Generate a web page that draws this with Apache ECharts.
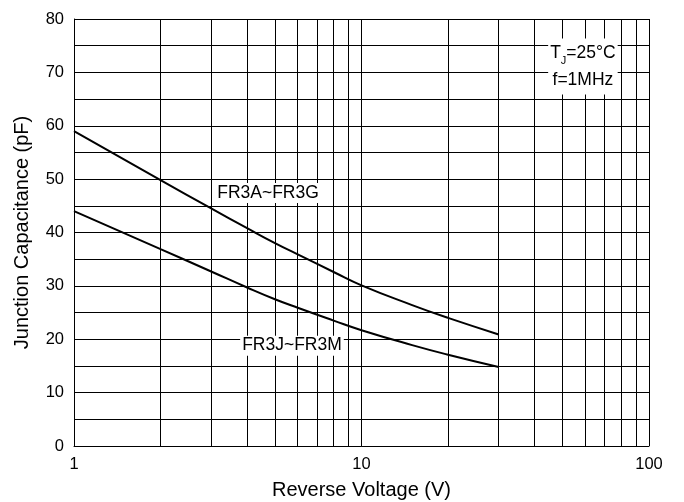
<!DOCTYPE html>
<html>
<head>
<meta charset="utf-8">
<script src="https://cdn.jsdelivr.net/npm/echarts@6/dist/echarts.min.js"></script>
<style>
html,body{margin:0;padding:0;background:#fff;}
#chart{width:684px;height:502px;}
</style>
</head>
<body>
<div id="chart"></div>
<script>
// Data
var voltagesA = [1, 2, 3, 4, 5, 6, 8, 10, 15, 20, 30];
var capA = [59.0, 49.8, 44.5, 40.8, 38.0, 35.9, 32.6, 30.1, 26.4, 24.0, 20.9];
var voltagesJ = [1, 2, 3, 4, 5, 6, 8, 10, 15, 20, 30];
var capJ = [44.0, 36.9, 32.7, 29.7, 27.5, 25.9, 23.5, 21.7, 18.9, 17.1, 14.8];
var minorGridX = [2, 3, 4, 5, 6, 7, 8, 9, 20, 30, 40, 50, 60, 70, 80, 90];
var labelA = {text: 'FR3A~FR3G', x: 4.73, y: 47.4};
var labelJ = {text: 'FR3J~FR3M', x: 5.73, y: 18.8};
var labelCond = {x: 58.9, y: 71.1};

function pairs(xs, ys) { return xs.map(function (x, i) { return [x, ys[i]]; }); }

var FONT = '"Liberation Sans", Arial, sans-serif';
var chart = echarts.init(document.getElementById('chart'), null, {renderer: 'canvas'});
var lineBlack = {color: '#000', width: 1, type: 'solid'};
var textLabel = {
  show: true, position: 'inside', color: '#000', fontFamily: FONT, fontSize: 17.5,
  backgroundColor: '#fff', padding: [1, 2]
};
chart.setOption({
  animation: false,
  backgroundColor: '#fff',
  grid: {left: 74, right: 35, top: 19, bottom: 56, containLabel: false, outerBoundsMode: 'none'},
  xAxis: {
    type: 'log', logBase: 10, min: 1, max: 100,
    name: 'Reverse Voltage (V)', nameLocation: 'middle', nameGap: 34,
    nameTextStyle: {color: '#000', fontFamily: FONT, fontSize: 20},
    axisLine: {show: true, lineStyle: {color: '#000', width: 1}},
    axisTick: {show: false},
    axisLabel: {color: '#000', fontFamily: FONT, fontSize: 16.5, margin: 10},
    splitLine: {show: true, lineStyle: lineBlack}
  },
  yAxis: {
    type: 'value', min: 0, max: 80, interval: 10,
    name: 'Junction Capacitance (pF)', nameLocation: 'middle', nameGap: 42,
    nameTextStyle: {color: '#000', fontFamily: FONT, fontSize: 20},
    axisLine: {show: true, lineStyle: {color: '#000', width: 1}},
    axisTick: {show: false},
    axisLabel: {color: '#000', fontFamily: FONT, fontSize: 16.5, margin: 10},
    splitLine: {show: true, lineStyle: lineBlack},
    minorTick: {show: false, splitNumber: 2},
    minorSplitLine: {show: true, lineStyle: lineBlack}
  },
  series: [
    {
      type: 'line', data: [], silent: true, z: 1,
      markLine: {
        silent: true, symbol: ['none', 'none'], label: {show: false},
        lineStyle: lineBlack, animation: false,
        data: minorGridX.map(function (v) { return {xAxis: v}; })
      }
    },
    {
      type: 'line', data: pairs(voltagesA, capA), smooth: 0.5, showSymbol: false, z: 5,
      lineStyle: {color: '#000', width: 2}, itemStyle: {color: '#000'}
    },
    {
      type: 'line', data: pairs(voltagesJ, capJ), smooth: 0.5, showSymbol: false, z: 5,
      lineStyle: {color: '#000', width: 2}, itemStyle: {color: '#000'}
    },
    {
      type: 'scatter', data: [], z: 6, silent: true,
      markPoint: {
        silent: true, symbol: 'rect', symbolSize: 1, animation: false,
        itemStyle: {color: 'rgba(0,0,0,0)'},
        data: [
          {coord: [labelA.x, labelA.y], label: Object.assign({}, textLabel, {formatter: labelA.text})},
          {coord: [labelJ.x, labelJ.y], label: Object.assign({}, textLabel, {formatter: labelJ.text})},
          {coord: [labelCond.x, labelCond.y], label: Object.assign({}, textLabel, {
            formatter: 'T{s|J}=25°C\nf=1MHz', lineHeight: 27, padding: [1, 2],
            rich: {s: {fontSize: 11, fontFamily: FONT, color: '#000', verticalAlign: 'bottom', lineHeight: 19}}
          })}
        ]
      }
    }
  ]
});
</script>
</body>
</html>
